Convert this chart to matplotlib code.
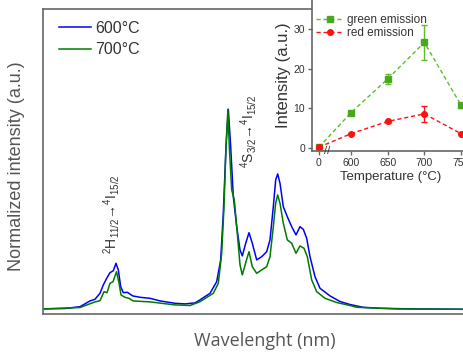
import matplotlib
matplotlib.use("Agg")
import matplotlib.pyplot as plt

plt.rcParams["font.family"] = ["Liberation Sans", "DejaVu Sans"]
plt.rcParams["mathtext.fontset"] = "custom"
plt.rcParams["mathtext.rm"] = "Liberation Sans"
plt.rcParams["mathtext.it"] = "Liberation Sans:italic"

# emission spectra, normalised to the 4S3/2 peak
wl_600 = [510.00, 513.52, 515.92, 517.52, 518.32, 519.12, 519.65, 520.19, 520.72, 521.25,
          521.68, 522.05, 522.43, 522.85, 523.49, 524.35, 525.52, 527.12, 528.72, 531.12,
          532.72, 534.32, 535.12, 536.72, 537.79, 538.43, 538.85, 539.28, 539.65, 540.03,
          540.45, 540.99, 541.52, 541.89, 542.43, 542.96, 543.49, 544.19, 544.99, 545.79,
          546.32, 546.85, 547.23, 547.55, 547.92, 548.45, 549.09, 549.79, 550.48, 551.12,
          551.65, 552.19, 552.72, 553.52, 554.32, 555.92, 557.52, 559.12, 561.20, 563.92,
          569.20, 577.36]
int_600 = [0.002, 0.004, 0.013, 0.042, 0.050, 0.080, 0.122, 0.155, 0.183, 0.193,
           0.230, 0.197, 0.113, 0.083, 0.085, 0.067, 0.060, 0.055, 0.042, 0.030,
           0.027, 0.032, 0.047, 0.080, 0.138, 0.247, 0.482, 0.813, 1.000, 0.813,
           0.563, 0.413, 0.297, 0.267, 0.330, 0.383, 0.330, 0.247, 0.263, 0.288,
           0.347, 0.513, 0.647, 0.677, 0.630, 0.513, 0.463, 0.413, 0.372, 0.413,
           0.400, 0.355, 0.263, 0.163, 0.105, 0.067, 0.039, 0.024, 0.010, 0.005,
           0.002, 0.000]

wl_700 = [510.00, 515.92, 518.32, 519.12, 519.76, 520.24, 520.72, 521.20, 521.76, 522.16,
          522.48, 523.12, 523.76, 524.40, 527.12, 531.12, 533.52, 535.12, 537.25, 538.05,
          538.59, 538.96, 539.28, 539.58, 539.81, 540.19, 540.61, 541.09, 541.52, 541.89,
          542.48, 542.96, 543.49, 544.19, 544.99, 545.79, 546.32, 546.85, 547.23, 547.55,
          547.92, 548.45, 549.09, 549.79, 550.48, 551.12, 551.76, 552.29, 552.99, 553.79,
          555.12, 556.99, 559.12, 560.24, 566.64, 577.36]
int_700 = [0.002, 0.009, 0.037, 0.043, 0.088, 0.083, 0.130, 0.138, 0.188, 0.132,
           0.072, 0.060, 0.055, 0.042, 0.037, 0.022, 0.019, 0.038, 0.080, 0.130,
           0.280, 0.513, 0.813, 1.000, 0.813, 0.597, 0.547, 0.380, 0.222, 0.172,
           0.238, 0.288, 0.213, 0.180, 0.197, 0.213, 0.263, 0.413, 0.530, 0.572,
           0.530, 0.430, 0.347, 0.330, 0.280, 0.317, 0.305, 0.263, 0.147, 0.088,
           0.055, 0.034, 0.019, 0.010, 0.002, 0.000]

# inset: integrated intensity vs annealing temperature
temps = [0, 600, 650, 700, 750]
temp_labels = ["0", "600", "650", "700", "750"]
green_em = [0.2, 8.9, 17.4, 26.6, 10.8]
green_err = [0.2, 0.3, 1.2, 4.5, 0.6]
red_em = [0.2, 3.6, 6.7, 8.6, 3.6]
red_err = [0.1, 0.2, 0.3, 2.0, 0.2]

GRAY = "#555555"
fig = plt.figure(figsize=(4.64, 3.54), dpi=100)

ax = fig.add_axes([43 / 464, 40 / 354, 421 / 464, 305 / 354])
ax.plot(wl_600, int_600, color="#0000ff", lw=1.1, label="600°C")
ax.plot(wl_700, int_700, color="#007a00", lw=1.1, label="700°C")
ax.set_xlim(510, 577.36)
ax.set_ylim(-0.0235, 1.5015)
ax.set_xticks([])
ax.set_yticks([])
ax.spines["right"].set_visible(False)
for s in ("left", "top", "bottom"):
    ax.spines[s].set_color("#666666")
    ax.spines[s].set_linewidth(1.2)
ax.legend(loc="upper left", frameon=False, fontsize=11.5, handlelength=2.0,
          handletextpad=0.3, labelspacing=0.4, bbox_to_anchor=(0.003, 1.008),
          labelcolor="#333333")

ax.text(521.0, 0.476, r"$^{2}$H$_{11/2}$→$^{4}$I$_{15/2}$", rotation=90,
        ha="center", va="center", fontsize=10, color="#333333")
ax.text(542.9, 0.89, r"$^{4}$S$_{3/2}$→$^{4}$I$_{15/2}$", rotation=90,
        ha="center", va="center", fontsize=10, color="#333333")

fig.text(17 / 464, 1 - 166 / 354, "Normalized intensity (a.u.)", rotation=90,
         ha="center", va="center", fontsize=13, color=GRAY)
fig.text(265 / 464, 1 - 341 / 354, "Wavelenght (nm)", family=["Open Sans", "DejaVu Sans"],
         ha="center", va="center", fontsize=13, color=GRAY)

# inset
zero_pos = 556.4
pos = [zero_pos if t == 0 else t for t in temps]
ins = fig.add_axes([312 / 464, 1 - 151 / 354, 156.4 / 464, 151 / 354])
ins.errorbar(pos, green_em, yerr=green_err, color="#5cbf2a", ls="none", capsize=2,
             elinewidth=1)
ins.plot(pos, green_em, color="#5cbf2a", ls=(0, (3, 2)), lw=1, marker="s", ms=4,
         mfc="#4aa820", mec="#4aa820", label="green emission")
ins.errorbar(pos, red_em, yerr=red_err, color="#ff1010", ls="none", capsize=2,
             elinewidth=1)
ins.plot(pos, red_em, color="#ff1010", ls=(0, (3, 2)), lw=1, marker="o", ms=4,
         label="red emission")
ins.set_xlim(546.9, 760)
ins.set_ylim(-0.76, 37.3)
ins.set_xticks(pos)
ins.set_xticklabels(temp_labels)
ins.set_yticks([0, 10, 20, 30])
ins.tick_params(direction="out", length=3, width=1, colors="#666666", labelsize=7.5,
                labelcolor="#333333", pad=2)
ins.spines["top"].set_visible(False)
ins.spines["right"].set_visible(False)
for s in ("left", "bottom"):
    ins.spines[s].set_color("#666666")
    ins.spines[s].set_linewidth(1.2)
ins.text(567.5, -0.76, "//", ha="center", va="center", fontsize=8, color="#333333")
ins.set_xlabel("Temperature (°C)", fontsize=9.5, color="#333333", labelpad=2)
ins.set_ylabel("Intensity (a.u.)", fontsize=12, color="#333333", labelpad=2)
ins.legend(loc="upper left", frameon=False, fontsize=8.5, handlelength=2.3,
           handletextpad=0.3, labelspacing=0.15, bbox_to_anchor=(-0.042, 0.98),
           labelcolor="#333333")

fig.savefig("out.png", dpi=100)
